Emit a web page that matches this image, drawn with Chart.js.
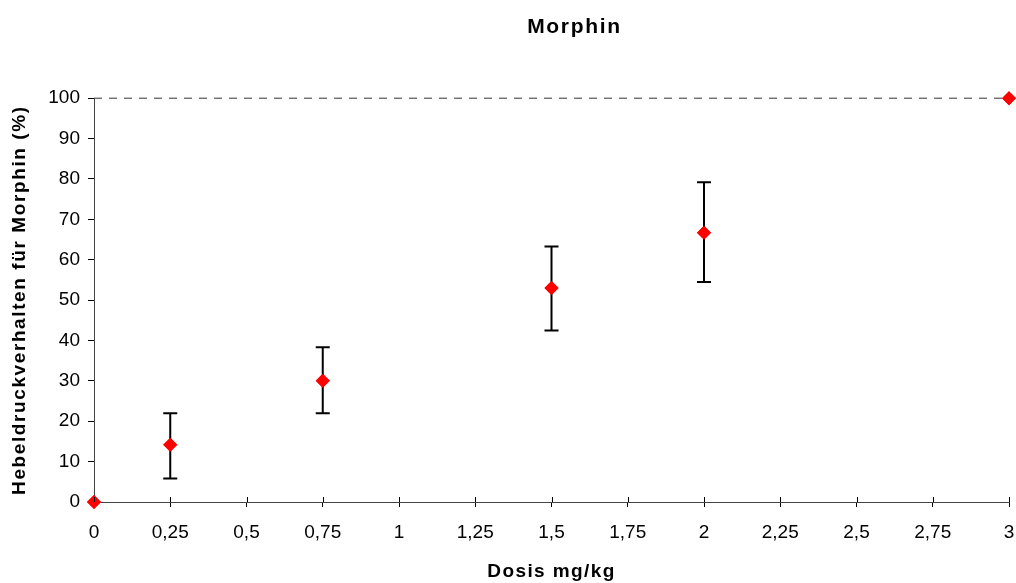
<!DOCTYPE html>
<html><head><meta charset="utf-8">
<script src="https://cdn.jsdelivr.net/npm/chart.js@4/dist/chart.umd.min.js"></script>
<style>html,body{margin:0;padding:0;background:#fff}#wrap{width:1016px;height:583px}</style>
</head><body><div id="wrap"><canvas id="c" width="1016" height="583"></canvas></div>
<script>
const doses = [0, 0.25, 0.75, 1.5, 2, 3];
const values = [0, 14.2, 30.0, 53.0, 66.7, 100];
const errLow = [null, 5.8, 22.0, 42.5, 54.5, null];
const errHigh = [null, 22.0, 38.3, 63.3, 79.2, null];
const refLine = [{x: 0, y: 100}, {x: 3, y: 100}];
const xTicks = [0, 0.25, 0.5, 0.75, 1, 1.25, 1.5, 1.75, 2, 2.25, 2.5, 2.75, 3];
const yTicks = [0, 10, 20, 30, 40, 50, 60, 70, 80, 90, 100];

const FONT = "'Liberation Sans', Arial, sans-serif";

function withSpacing(obj, name, spacing) {
  const orig = obj[name];
  obj[name] = function (...args) {
    const ctx = this.ctx;
    const prev = ctx.letterSpacing;
    ctx.letterSpacing = spacing;
    const r = orig.apply(this, args);
    ctx.letterSpacing = prev || '0px';
    return r;
  };
}

const errorBars = {
  id: 'errorBars',
  afterLayout(chart) {
    if (chart.$patched) return;
    chart.$patched = true;
    if (chart.titleBlock) {
      chart.titleBlock.left += 23; chart.titleBlock.right += 23;
      withSpacing(chart.titleBlock, 'draw', '1.7px');
    }
    withSpacing(chart.scales.x, 'drawTitle', '1.4px');
    withSpacing(chart.scales.y, 'drawTitle', '1.6px');
  },
  afterDatasetsDraw(chart) {
    const {ctx, scales: {x, y}} = chart;
    ctx.save();
    ctx.strokeStyle = '#000';
    ctx.lineWidth = 2;
    doses.forEach((d, i) => {
      if (errLow[i] == null) return;
      const px = x.getPixelForValue(d);
      const y1 = y.getPixelForValue(errLow[i]);
      const y2 = y.getPixelForValue(errHigh[i]);
      ctx.beginPath();
      ctx.moveTo(px, y1); ctx.lineTo(px, y2);
      ctx.moveTo(px - 7, y1); ctx.lineTo(px + 7, y1);
      ctx.moveTo(px - 7, y2); ctx.lineTo(px + 7, y2);
      ctx.stroke();
    });
    ctx.restore();
    const meta = chart.getDatasetMeta(1);
    meta.data.forEach(el => el.draw(ctx));
    ctx.save();
    ctx.strokeStyle = '#000';
    ctx.lineWidth = 1;
    const yb = chart.chartArea.bottom;
    x.ticks.forEach((t, i) => {
      const px = Math.round(x.getPixelForTick(i)) + 0.5;
      ctx.beginPath(); ctx.moveTo(px, yb); ctx.lineTo(px, yb - 5); ctx.stroke();
    });
    ctx.restore();
  }
};

new Chart(document.getElementById('c'), {
  type: 'scatter',
  data: {
    datasets: [
      {
        type: 'line', data: refLine, borderColor: '#333', borderWidth: 1,
        borderDash: [8, 7], pointRadius: 0, fill: false, clip: false
      },
      {
        data: doses.map((d, i) => ({x: d, y: values[i]})),
        pointStyle: 'rectRot', pointRadius: 7, pointHoverRadius: 7,
        backgroundColor: '#ff0000', borderColor: '#ff0000', borderWidth: 0, clip: false
      }
    ]
  },
  options: {
    responsive: false, animation: false,
    layout: {padding: {left: 8, right: 4, top: 0, bottom: 0}},
    plugins: {
      legend: {display: false}, tooltip: {enabled: false},
      title: {
        display: true, text: 'Morphin', fullSize: false, color: '#000',
        font: {family: FONT, size: 21, weight: 'bold'},
        padding: {top: 15, bottom: 58}
      }
    },
    scales: {
      x: {
        type: 'linear', min: 0, max: 3,
        afterBuildTicks(s) { s.ticks = xTicks.map(v => ({value: v})); },
        afterFit(s) { s.height = 583 - 502; s.paddingLeft = 0; s.paddingRight = 0; },
        border: {display: true, color: '#444', width: 1},
        grid: {drawOnChartArea: false, drawTicks: true, tickLength: 5, color: '#000'},
        ticks: {
          color: '#000', font: {family: FONT, size: 19}, padding: 14, maxRotation: 0, autoSkip: false,
          callback: v => String(v).replace('.', ',')
        },
        title: {display: true, text: 'Dosis mg/kg', color: '#000', font: {family: FONT, size: 19, weight: 'bold'}, padding: {top: 10, bottom: 0}}
      },
      y: {
        type: 'linear', min: 0, max: 100,
        afterBuildTicks(s) { s.ticks = yTicks.map(v => ({value: v})); },
        afterFit(s) { s.width = 94 - 8; },
        border: {display: true, color: '#444', width: 1},
        grid: {drawOnChartArea: false, drawTicks: true, tickLength: 6, color: '#000'},
        ticks: {color: '#000', font: {family: FONT, size: 19}, padding: 8},
        title: {display: true, text: 'Hebeldruckverhalten für Morphin (%)', color: '#000', font: {family: FONT, size: 19, weight: 'bold'}, padding: {top: 0, bottom: 8}}
      }
    }
  },
  plugins: [errorBars]
});
</script></body></html>
